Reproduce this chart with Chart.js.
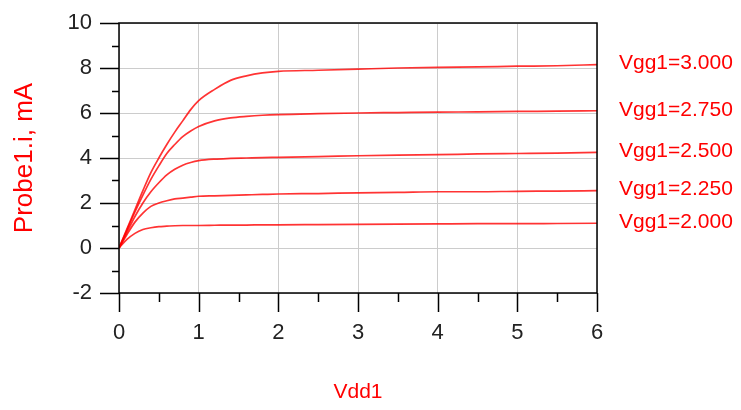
<!DOCTYPE html>
<html>
<head>
<meta charset="utf-8">
<script src="https://cdn.jsdelivr.net/npm/chart.js@4/dist/chart.umd.min.js"></script>
<style>
  html, body { margin: 0; padding: 0; background: #fff; }
  #wrap { width: 741px; height: 410px; }
</style>
</head>
<body>
<div id="wrap"><canvas id="iv"></canvas></div>
<script>
// Vdd1 sweep points (V)
const vdd = [0, 0.1, 0.2, 0.3, 0.4, 0.5, 0.6, 0.7, 0.8, 0.9, 1.0, 1.2, 1.4, 1.6, 1.8, 2.0, 2.5, 3, 3.5, 4, 4.5, 5, 5.5, 6];
// Probe1.i in mA, one curve per gate voltage
const vgg300 = [0, 0.85, 1.7, 2.55, 3.35, 4.0, 4.6, 5.15, 5.65, 6.15, 6.55, 7.05, 7.45, 7.65, 7.78, 7.85, 7.9, 7.95, 8.0, 8.03, 8.05, 8.08, 8.1, 8.15];
const vgg275 = [0, 0.8, 1.6, 2.35, 3.05, 3.65, 4.2, 4.6, 4.95, 5.2, 5.4, 5.65, 5.78, 5.85, 5.9, 5.93, 5.97, 6.0, 6.02, 6.04, 6.05, 6.07, 6.08, 6.1];
const vgg250 = [0, 0.7, 1.4, 2.0, 2.5, 2.9, 3.25, 3.5, 3.68, 3.8, 3.88, 3.95, 3.98, 4.0, 4.02, 4.03, 4.06, 4.1, 4.13, 4.15, 4.18, 4.2, 4.22, 4.25];
const vgg225 = [0, 0.6, 1.15, 1.55, 1.85, 2.0, 2.1, 2.18, 2.22, 2.26, 2.3, 2.32, 2.34, 2.36, 2.38, 2.4, 2.42, 2.45, 2.47, 2.5, 2.5, 2.52, 2.53, 2.55];
const vgg200 = [0, 0.38, 0.65, 0.82, 0.9, 0.95, 0.97, 0.99, 1.0, 1.0, 1.0, 1.01, 1.02, 1.02, 1.03, 1.03, 1.04, 1.05, 1.06, 1.07, 1.08, 1.08, 1.09, 1.1];
const curveNames = ["Vgg1=3.000", "Vgg1=2.750", "Vgg1=2.500", "Vgg1=2.250", "Vgg1=2.000"];
const curves = [vgg300, vgg275, vgg250, vgg225, vgg200];

const RED = "#ff0000";
const FONT = "'Liberation Sans', Arial, sans-serif";

function pts(ys) {
  return ys.map((y, i) => ({ x: vdd[i], y: y }));
}

// frame, tick marks and end-of-curve labels
const decor = {
  id: "decor",
  afterDraw(chart) {
    const ctx = chart.ctx;
    const a = chart.chartArea;
    const xs = chart.scales.x, ys = chart.scales.y;
    ctx.save();
    ctx.strokeStyle = "#000";
    ctx.lineWidth = 1.5;
    ctx.strokeRect(a.left, a.top, a.right - a.left, a.bottom - a.top);
    ctx.beginPath();
    for (let v = -2; v <= 10; v++) {
      const py = Math.round(ys.getPixelForValue(v)) + 0.5;
      const len = v % 2 === 0 ? 19 : 7;
      ctx.moveTo(a.left - len, py);
      ctx.lineTo(a.left, py);
    }
    for (let v = 0; v <= 6; v += 0.5) {
      const px = Math.round(xs.getPixelForValue(v)) + 0.5;
      const len = Number.isInteger(v) ? 19 : 9;
      ctx.moveTo(px, a.bottom);
      ctx.lineTo(px, a.bottom + len);
    }
    ctx.stroke();

    ctx.fillStyle = RED;
    ctx.font = "21px " + FONT;
    ctx.textAlign = "left";
    ctx.textBaseline = "middle";
    chart.data.datasets.forEach((ds) => {
      const last = ds.data[ds.data.length - 1];
      ctx.fillText(ds.label, a.right + 22, ys.getPixelForValue(last.y) - 1);
    });
    ctx.restore();
  }
};

new Chart(document.getElementById("iv"), {
  type: "scatter",
  data: {
    datasets: curves.map((c, i) => ({
      label: curveNames[i],
      data: pts(c),
      showLine: true,
      borderColor: "rgba(255,0,0,0.8)",
      backgroundColor: RED,
      borderWidth: 1.7,
      pointRadius: 0,
      cubicInterpolationMode: "monotone"
    }))
  },
  options: {
    responsive: true,
    maintainAspectRatio: false,
    animation: false,
    layout: { padding: { top: 23, right: 144, left: 0, bottom: 0 } },
    plugins: { legend: { display: false }, tooltip: { enabled: false } },
    scales: {
      x: {
        type: "linear",
        min: 0,
        max: 6,
        afterFit(s) { s.height = 117; s.paddingLeft = 0; s.paddingRight = 0; },
        border: { display: false },
        grid: {
          drawTicks: false,
          color: (c) => (Number.isInteger(c.tick.value) ? "#cccccc" : "rgba(0,0,0,0)"),
          lineWidth: 1
        },
        ticks: {
          stepSize: 0.5,
          padding: 27,
          color: "#222",
          font: { family: FONT, size: 22 },
          callback: (v) => (Number.isInteger(v) ? v : "")
        },
        title: {
          display: true,
          text: "Vdd1",
          color: RED,
          font: { family: FONT, size: 21 },
          padding: { top: 17, bottom: 5 }
        }
      },
      y: {
        min: -2,
        max: 10,
        afterFit(s) { s.width = 119; s.paddingTop = 0; s.paddingBottom = 0; },
        border: { display: false },
        grid: {
          drawTicks: false,
          color: (c) => (c.tick.value % 2 === 0 ? "#cccccc" : "rgba(0,0,0,0)"),
          lineWidth: 1
        },
        ticks: {
          stepSize: 1,
          padding: 27,
          color: "#222",
          font: { family: FONT, size: 22 },
          callback: (v) => (v % 2 === 0 ? v : "")
        },
        title: {
          display: true,
          text: "Probe1.i, mA",
          color: RED,
          font: { family: FONT, size: 26 },
          padding: { top: 9 }
        }
      }
    }
  },
  plugins: [decor]
});
</script>
</body>
</html>
